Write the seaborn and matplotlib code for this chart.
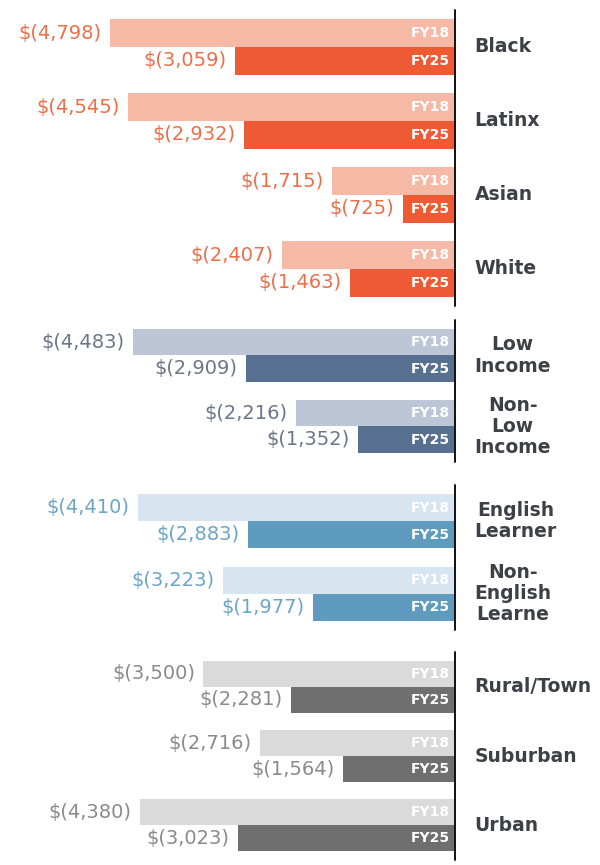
import matplotlib
matplotlib.use("Agg")
import matplotlib.pyplot as plt
import pandas as pd
import seaborn as sns

# funding gap per student, FY18 vs FY25 (shown as negative dollars)
race_cats = ["Black", "Latinx", "Asian", "White"]
race_fy18 = [4798, 4545, 1715, 2407]
race_fy25 = [3059, 2932, 725, 1463]

income_cats = ["Low\nIncome", "Non-\nLow\nIncome"]
income_fy18 = [4483, 2216]
income_fy25 = [2909, 1352]

el_cats = ["English\nLearner", "Non-\nEnglish\nLearne"]
el_fy18 = [4410, 3223]
el_fy25 = [2883, 1977]

locale_cats = ["Rural/Town", "Suburban", "Urban"]
locale_fy18 = [3500, 2716, 4380]
locale_fy25 = [2281, 1564, 3023]

years = ["FY18", "FY25"]

# (light, dark, value-label colour) per group
group_styles = [
    ("#f6b9a5", "#ee5a33", "#ee6e4a"),
    ("#bdc6d6", "#587090", "#6b7688"),
    ("#d6e5ef", "#5f9bbe", "#6ca5c8"),
    ("#dadada", "#6f6f6f", "#8a8a8a"),
]

groups = [
    (race_cats, race_fy18, race_fy25),
    (income_cats, income_fy18, income_fy25),
    (el_cats, el_fy18, el_fy25),
    (locale_cats, locale_fy18, locale_fy25),
]

# vertical extent of each panel in pixels (top, bottom)
panel_spans = [(10, 306), (320, 462), (485, 630), (652, 860)]

sns.set_theme(style="white")
plt.rcParams["font.family"] = ["DejaVu Sans"]

W, H = 600, 865
fig = plt.figure(figsize=(W / 100, H / 100), dpi=100)
fig.patch.set_facecolor("white")

axis_px = 455
px_per_dollar = 0.0719

for (cats, fy18, fy25), (light, dark, lab_col), (top, bot) in zip(groups, group_styles, panel_spans):
    ax = fig.add_axes([0, 1 - bot / H, axis_px / W, (bot - top) / H])
    df = pd.DataFrame({
        "category": cats + cats,
        "year": ["FY18"] * len(cats) + ["FY25"] * len(cats),
        "gap": [-v for v in fy18] + [-v for v in fy25],
    })
    sns.barplot(
        data=df, y="category", x="gap", hue="year", hue_order=years,
        orient="h", palette={"FY18": light, "FY25": dark},
        width=0.75, saturation=1, legend=False, ax=ax, errorbar=None,
        linewidth=0,
    )
    ax.set_xlim(-axis_px / px_per_dollar, 0)
    ax.set_axis_off()
    ax.axvline(0, color="#111111", lw=1.4, clip_on=False)

    for year, container in zip(years, ax.containers):
        for bar in container:
            yc = bar.get_y() + bar.get_height() / 2
            # barh with negative width: left edge is x + width
            left = min(bar.get_x(), bar.get_x() + bar.get_width())
            ax.annotate(f"$({int(round(-left)):,})", (left, yc), xytext=(-6, 0),
                        textcoords="offset points", ha="right", va="center",
                        fontsize=14, color=lab_col)
            ax.annotate(year, (0, yc), xytext=(-4, 0), textcoords="offset points",
                        ha="right", va="center", fontsize=10, fontweight="bold",
                        color="white")

    for i, cat in enumerate(cats):
        ax.annotate(cat, (0, i), xytext=(14, 0), textcoords="offset points",
                    ha="left", va="center", multialignment="center",
                    fontsize=13.5, fontweight="bold", color="#3f3f48",
                    linespacing=1.15, annotation_clip=False)

fig.savefig("out.png", dpi=100, facecolor="white")
